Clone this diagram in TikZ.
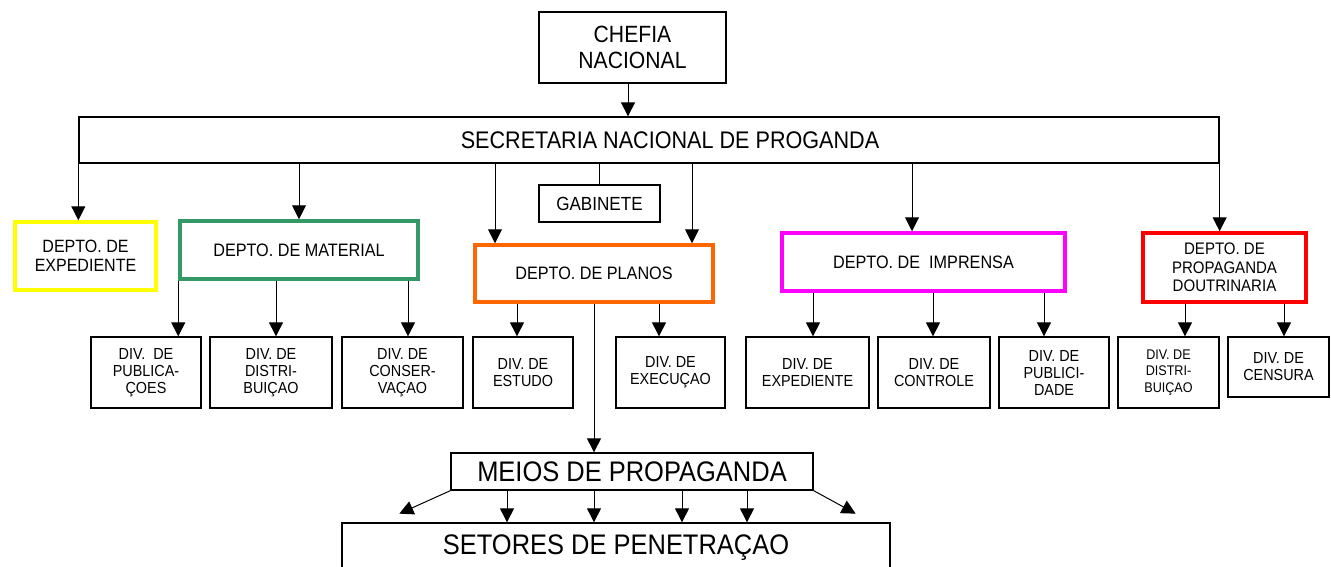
\documentclass[tikz,border=0pt]{standalone}
\usepackage{fontspec}
\setmainfont{Liberation Sans}[FakeStretch=0.9]
\usetikzlibrary{arrows.meta,calc}
\definecolor{deptyellow}{HTML}{FFFF00}
\definecolor{deptgreen}{HTML}{339966}
\definecolor{deptorange}{HTML}{FF6600}
\definecolor{deptmagenta}{HTML}{FF00FF}
\definecolor{deptred}{HTML}{FF0000}
\newcommand{\fsz}[2]{\fontsize{#1}{#2}\selectfont}
\tikzset{>={Triangle[length=14pt,width=14pt]}}

\begin{document}
\frenchspacing
\begin{tikzpicture}[x=1pt,y=-1pt,
    box/.style={draw, line width=1.3pt, inner sep=0pt, align=center},
    dept/.style={box, line width=3.5pt, font=\fsz{18}{19}},
    divbox/.style={box, minimum height=71pt, font=\fsz{16}{17}},
    conn/.style={->, line width=1pt}]
    \useasboundingbox (0,0) rectangle (1331,567);
    % top
    \node[box, minimum width=187pt, minimum height=71pt, font=\fsz{23.5}{26}] (chefia) at (632.5,47.5) {CHEFIA\\NACIONAL};
    \node[box, minimum width=1140pt, minimum height=46pt] (secretaria) at (649,140) {};
    \node[font=\fsz{24}{26}] (sectext) at (670,140) {SECRETARIA NACIONAL DE PROGANDA};
    \node[box, minimum width=121pt, minimum height=37pt, font=\fsz{19}{20}] (gabinete) at (599.5,203.5) {GABINETE};
    % departments
    \node[dept, draw=deptyellow, minimum width=141pt, minimum height=68pt, font=\fsz{17.8}{19.3}] (expediente) at (85.5,256) {DEPTO. DE\\EXPEDIENTE};
    \node[dept, draw=deptgreen, minimum width=238pt, minimum height=58pt] (material) at (299,250) {DEPTO. DE MATERIAL};
    \node[dept, draw=deptorange, minimum width=238pt, minimum height=57pt] (planos) at (594,273.5) {DEPTO. DE PLANOS};
    \node[dept, draw=deptmagenta, minimum width=283pt, minimum height=58pt] (imprensa) at (923.5,262) {DEPTO. DE\ \ IMPRENSA};
    \node[dept, draw=deptred, minimum width=163pt, minimum height=69pt, font=\fsz{16.7}{18.3}] (doutrinaria) at (1224.5,267.5) {DEPTO. DE\\PROPAGANDA\\DOUTRINARIA};
    % divisions
    \node[divbox, minimum width=110pt] (publicacoes) at (146,372.5) {DIV.\ \ DE\\PUBLICA-\\ÇOES};
    \node[divbox, minimum width=122pt] (distribuicao) at (271,372.5) {DIV. DE\\DISTRI-\\BUIÇAO};
    \node[divbox, minimum width=121pt] (conservacao) at (402.5,372.5) {DIV. DE\\CONSER-\\VAÇAO};
    \node[divbox, minimum width=100pt] (estudo) at (523,372.5) {DIV. DE\\ESTUDO};
    \node[divbox, minimum width=109pt] (execucao) at (670.5,372.5) {DIV. DE\\EXECUÇAO};
    \node[divbox, minimum width=123pt] (divexped) at (807.5,372.5) {DIV. DE\\EXPEDIENTE};
    \node[divbox, minimum width=112pt] (controle) at (934,372.5) {DIV. DE\\CONTROLE};
    \node[divbox, minimum width=110pt] (publicidade) at (1054,372.5) {DIV. DE\\PUBLICI-\\DADE};
    \node[divbox, minimum width=101pt, font=\fsz{14}{16.5}] (divdistrib) at (1168.5,372.5) {DIV. DE\\DISTRI-\\BUIÇAO};
    \node[divbox, minimum width=101pt, minimum height=60pt] (censura) at (1278.5,367) {DIV. DE\\CENSURA};
    % bottom
    \node[box, minimum width=362pt, minimum height=37pt, font=\fsz{28.3}{30}] (meios) at (632,471.5) {MEIOS DE PROPAGANDA};
    \node[box, minimum width=548pt, minimum height=50pt, font=\fsz{28.3}{30}] (setores) at (616,548) {SETORES DE PENETRAÇAO};
    % connectors
    \coordinate (ch) at ($(chefia.south)+(-4.5,0)$);
    \draw[conn] (ch) -- (ch |- secretaria.north);
    \draw[conn] (secretaria.south west) -- (secretaria.south west |- expediente.north);
    \draw[conn] (material.north |- secretaria.south) -- (material.north);
    \coordinate (pl1) at ($(planos.north)+(-99,0)$);
    \coordinate (pl2) at ($(planos.north)+(98,0)$);
    \draw[conn] (pl1 |- secretaria.south) -- (pl1);
    \draw[conn] (pl2 |- secretaria.south) -- (pl2);
    \draw[line width=1pt] (gabinete.north |- secretaria.south) -- (gabinete.north);
    \coordinate (im) at ($(imprensa.north)+(-11.5,0)$);
    \draw[conn] (im |- secretaria.south) -- (im);
    \draw[conn] (secretaria.south east) -- (secretaria.south east |- doutrinaria.north);
    \draw[conn] (material.south west) -- (material.south west |- publicacoes.north);
    \foreach \p/\c/\dx in {material/distribuicao/5, material/conservacao/5.5,
        planos/estudo/-6, planos/execucao/-11.5, imprensa/divexped/5.5,
        imprensa/controle/-1, imprensa/publicidade/-10,
        doutrinaria/divdistrib/16.5, doutrinaria/censura/5.5}{
      \coordinate (\c-in) at ($(\c.north)+(\dx,0)$);
      \draw[conn] (\c-in |- \p.south) -- (\c-in);
    }
    \draw[conn] (planos.south) -- (planos.south |- meios.north);
    \foreach \dx [count=\i] in {-125,-38,50,115}{
      \coordinate (m\i) at ($(meios.south)+(\dx,0)$);
      \draw[conn] (m\i) -- (m\i |- setores.north);
    }
    \coordinate (dl) at ($(meios.south west)+(-51,23)$);
    \coordinate (dr) at ($(meios.south east)+(42,23)$);
    \draw[conn] (meios.south west) -- (dl);
    \draw[conn] (meios.south east) -- (dr);
\end{tikzpicture}
\end{document}
